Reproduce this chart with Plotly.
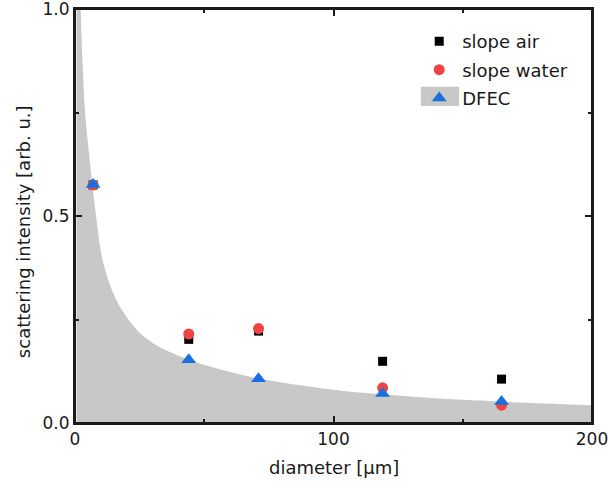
import plotly.graph_objects as go

# measured diameters (µm)
diameters = [7, 44, 71, 119, 165]

# scattering intensity per method
slope_air = [0.575, 0.202, 0.222, 0.149, 0.106]
slope_water = [0.575, 0.215, 0.228, 0.085, 0.043]
dfec = [0.576, 0.153, 0.107, 0.071, 0.052]

# DFEC model curve (diameter, intensity)
curve_x = [0.6, 1.2, 2.2, 3.0, 3.9, 5.8, 7.0, 8.0, 8.8, 9.7, 11.0, 12.9, 15.5,
           19.3, 25.0, 32.0, 41.8, 47, 56, 67.7, 80, 100, 115, 132, 150, 164,
           182, 200]
curve_y = [2.0, 1.45, 1.0, 0.86, 0.75, 0.63, 0.56, 0.507, 0.467, 0.426, 0.385,
           0.345, 0.304, 0.262, 0.218, 0.186, 0.158, 0.146, 0.130, 0.112,
           0.098, 0.0805, 0.071, 0.063, 0.056, 0.052, 0.047, 0.043]

x_ticks = [0, 100, 200]
y_ticks = [0.0, 0.5, 1.0]

FONT = "DejaVu Sans"
INK = "#1a1a1a"
GRAY = "#c8c8c8"
RED = "#ef4343"
BLUE = "#1c6fdf"

fig = go.Figure()

fig.add_trace(go.Scatter(
    x=curve_x, y=curve_y, mode="lines",
    line=dict(width=0, color=GRAY, shape="spline", smoothing=1.0),
    fill="tozeroy", fillcolor=GRAY, showlegend=False, hoverinfo="skip",
))
fig.add_trace(go.Scatter(
    x=diameters, y=slope_air, mode="markers", name="slope air",
    marker=dict(symbol="square", size=9, color="black"),
    legendgroup="a", legendrank=1,
))
fig.add_trace(go.Scatter(
    x=diameters, y=slope_water, mode="markers", name="slope water",
    marker=dict(symbol="circle", size=11, color=RED),
    legendgroup="b", legendrank=2,
))
fig.add_trace(go.Scatter(
    x=diameters, y=dfec, mode="markers", name="DFEC",
    marker=dict(symbol="triangle-up", size=13, color=BLUE),
    legendgroup="c", legendrank=3,
))

axis_common = dict(
    showline=True, linecolor=INK, linewidth=2, mirror="ticks",
    ticks="inside", ticklen=7, tickwidth=1.5, tickcolor=INK,
    showgrid=False, zeroline=False, ticklabeloverflow="allow",
    automargin=False,
    tickfont=dict(family=FONT, size=17, color=INK),
)

fig.update_xaxes(
    range=[0, 200], tickvals=x_ticks, ticktext=[str(v) for v in x_ticks],
    minor=dict(ticks="inside", ticklen=4, dtick=50, tick0=0, tickcolor=INK, tickwidth=1.5),
    **axis_common,
)
fig.update_yaxes(
    range=[0, 1.0], tickvals=y_ticks, ticktext=[f"{v:.1f}" for v in y_ticks],
    minor=dict(ticks="inside", ticklen=4, dtick=0.25, tick0=0, tickcolor=INK, tickwidth=1.5),
    **axis_common,
)

# axis titles
fig.add_annotation(
    text="diameter [µm]",
    xref="paper", yref="paper", x=0.5, y=-0.108,
    xanchor="center", yanchor="middle", showarrow=False,
    font=dict(family=FONT, size=18, color=INK),
)
fig.add_annotation(
    text="scattering intensity [arb. u.]", textangle=-90,
    xref="paper", yref="paper", x=-0.099, y=0.463,
    xanchor="center", yanchor="middle", showarrow=False,
    font=dict(family=FONT, size=18, color=INK),
)

# plot frame
fig.add_shape(type="rect", xref="paper", yref="paper",
              x0=0, x1=1, y0=0, y1=1,
              line=dict(color=INK, width=2), fillcolor="rgba(0,0,0,0)",
              layer="above")

# grey swatch behind the DFEC legend symbol
fig.add_shape(type="rect", xref="paper", yref="paper",
              x0=0.669, x1=0.743, y0=0.766, y1=0.812,
              fillcolor=GRAY, line_width=0, layer="below")

fig.update_layout(
    width=608, height=491,
    margin=dict(l=75, r=16, t=9, b=68),
    plot_bgcolor="white", paper_bgcolor="white",
    font=dict(family=FONT, size=18, color=INK),
    legend=dict(
        x=0.66, y=0.966, xanchor="left", yanchor="top",
        bgcolor="rgba(0,0,0,0)", borderwidth=0,
        font=dict(family=FONT, size=18, color=INK),
        tracegroupgap=2, itemwidth=36,
    ),
)

fig.write_html("out.html")
